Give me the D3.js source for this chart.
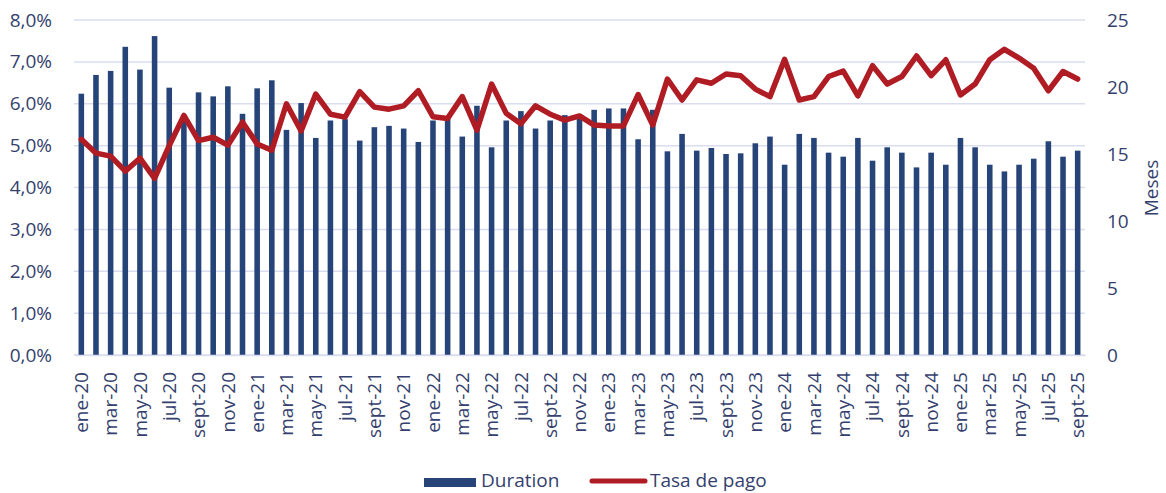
<!DOCTYPE html>
<html>
<head>
<meta charset="utf-8">
<script src="https://cdn.jsdelivr.net/npm/d3@7"></script>
<style>
  body { margin: 0; background: #fff; }
  text { font-family: "Open Sans", "Noto Sans", sans-serif; fill: #343f6e; }
</style>
</head>
<body>
<script>
// month names used in the labels
var monthNames = ["ene","feb","mar","abr","may","jun","jul","ago","sept","oct","nov","dic"];
var years = ["20","21","22","23","24","25"];

// ene-20 .. sept-25
var months = [];
years.forEach(function(y) {
  monthNames.forEach(function(m) {
    if (months.length < 69) months.push(m + "-" + y);
  });
});

// Duration (meses, right axis)
var duration = [
  19.5, 20.9, 21.2, 23.0, 21.3, 23.8, 19.95, 17.7, 19.6, 19.3, 20.05, 18.0,
  19.9, 20.5, 16.8, 18.8, 16.2, 17.5, 17.6, 16.0, 17.0, 17.1, 16.9, 15.9,
  17.5, 17.8, 16.3, 18.6, 15.5, 17.5, 18.2, 16.9, 17.5, 17.9, 17.7, 18.3,
  18.4, 18.4, 16.1, 18.3, 15.2, 16.5, 15.25, 15.45, 15.0, 15.05, 15.8, 16.3,
  14.2, 16.5, 16.2, 15.1, 14.8, 16.2, 14.5, 15.5, 15.1, 14.0, 15.1, 14.2,
  16.2, 15.5, 14.2, 13.7, 14.2, 14.65, 15.95, 14.8, 15.25
];

// Tasa de pago (%, left axis)
var tasaPago = [
  5.15, 4.82, 4.75, 4.39, 4.70, 4.22, 5.00, 5.72, 5.12, 5.20, 5.01, 5.56,
  5.04, 4.89, 6.00, 5.35, 6.23, 5.75, 5.68, 6.29, 5.92, 5.87, 5.95, 6.31,
  5.69, 5.65, 6.17, 5.37, 6.47, 5.77, 5.52, 5.95, 5.75, 5.61, 5.71, 5.49,
  5.47, 5.47, 6.22, 5.49, 6.59, 6.09, 6.57, 6.49, 6.71, 6.67, 6.35, 6.17,
  7.06, 6.09, 6.17, 6.65, 6.78, 6.19, 6.91, 6.47, 6.65, 7.14, 6.67, 7.05,
  6.21, 6.47, 7.05, 7.30, 7.09, 6.85, 6.31, 6.77, 6.59
];

var leftTicks = [0, 1, 2, 3, 4, 5, 6, 7, 8];
var rightTicks = [0, 5, 10, 15, 20, 25];
var seriesNames = ["Duration", "Tasa de pago"];

var width = 1166, height = 493;
var margin = {top: 20, right: 81, bottom: 138, left: 74};
var plotW = width - margin.left - margin.right,
    plotH = height - margin.top - margin.bottom;

var barColor = "#264478", lineColor = "#b01c24", gridColor = "#d9ddef";

var svg = d3.select("body").append("svg")
    .attr("width", width)
    .attr("height", height);

var g = svg.append("g")
    .attr("transform", "translate(" + margin.left + "," + margin.top + ")");

// scales
var x = d3.scaleBand().domain(months).range([0, plotW])
    .paddingInner(0.62).paddingOuter(0.31);
var yL = d3.scaleLinear().domain([0, 8]).range([plotH, 0]);
var yR = d3.scaleLinear().domain([0, 25]).range([plotH, 0]);

// gridlines
g.selectAll(".grid")
    .data(leftTicks)
  .enter().append("line")
    .attr("x1", 0).attr("x2", plotW)
    .attr("y1", function(d) { return yL(d); })
    .attr("y2", function(d) { return yL(d); })
    .attr("stroke", gridColor)
    .attr("stroke-width", 1.5);

// bars
g.selectAll(".bar")
    .data(duration)
  .enter().append("rect")
    .attr("x", function(d, i) { return x(months[i]); })
    .attr("width", x.bandwidth())
    .attr("y", function(d) { return yR(d); })
    .attr("height", function(d) { return plotH - yR(d); })
    .attr("fill", barColor);

// x axis
var xAxis = g.append("g")
    .attr("transform", "translate(0," + plotH + ")")
    .call(d3.axisBottom(x)
      .tickValues(months.filter(function(d, i) { return i % 2 == 0; }))
      .tickSize(0));
xAxis.select(".domain").attr("stroke", gridColor).attr("stroke-width", 1.5);
xAxis.selectAll("text")
    .attr("font-size", 19)
    .attr("text-anchor", "end")
    .attr("transform", "rotate(-90)")
    .attr("x", -17)
    .attr("y", 0)
    .attr("dy", "0.35em");

// line
var line = d3.line()
    .x(function(d, i) { return x(months[i]) + x.bandwidth() / 2; })
    .y(function(d) { return yL(d); });

g.append("path")
    .datum(tasaPago)
    .attr("d", line)
    .attr("fill", "none")
    .attr("stroke", lineColor)
    .attr("stroke-width", 5.5)
    .attr("stroke-linejoin", "round")
    .attr("stroke-linecap", "round");

// left axis
var leftAxis = g.append("g")
    .call(d3.axisLeft(yL).tickValues(leftTicks).tickSize(0).tickPadding(22)
      .tickFormat(function(d) { return d.toFixed(1).replace(".", ",") + "%"; }));
leftAxis.select(".domain").remove();
leftAxis.selectAll("text").attr("font-size", 19);

// right axis
var rightAxis = g.append("g")
    .attr("transform", "translate(" + plotW + ",0)")
    .call(d3.axisRight(yR).tickValues(rightTicks).tickSize(0).tickPadding(22));
rightAxis.select(".domain").remove();
rightAxis.selectAll("text").attr("font-size", 19);

svg.append("text")
    .attr("transform", "translate(1158,188) rotate(-90)")
    .attr("text-anchor", "middle")
    .attr("font-size", 19)
    .text("Meses");

// legend
var legend = svg.append("g");
legend.append("rect")
    .attr("x", 424).attr("y", 478)
    .attr("width", 52).attr("height", 9)
    .attr("fill", barColor);
legend.append("text")
    .attr("x", 481).attr("y", 487)
    .attr("font-size", 19)
    .text(seriesNames[0]);
legend.append("line")
    .attr("x1", 592).attr("x2", 645)
    .attr("y1", 481).attr("y2", 481)
    .attr("stroke", lineColor)
    .attr("stroke-width", 5)
    .attr("stroke-linecap", "round");
legend.append("text")
    .attr("x", 650).attr("y", 487)
    .attr("font-size", 19)
    .text(seriesNames[1]);
</script>
</body>
</html>
